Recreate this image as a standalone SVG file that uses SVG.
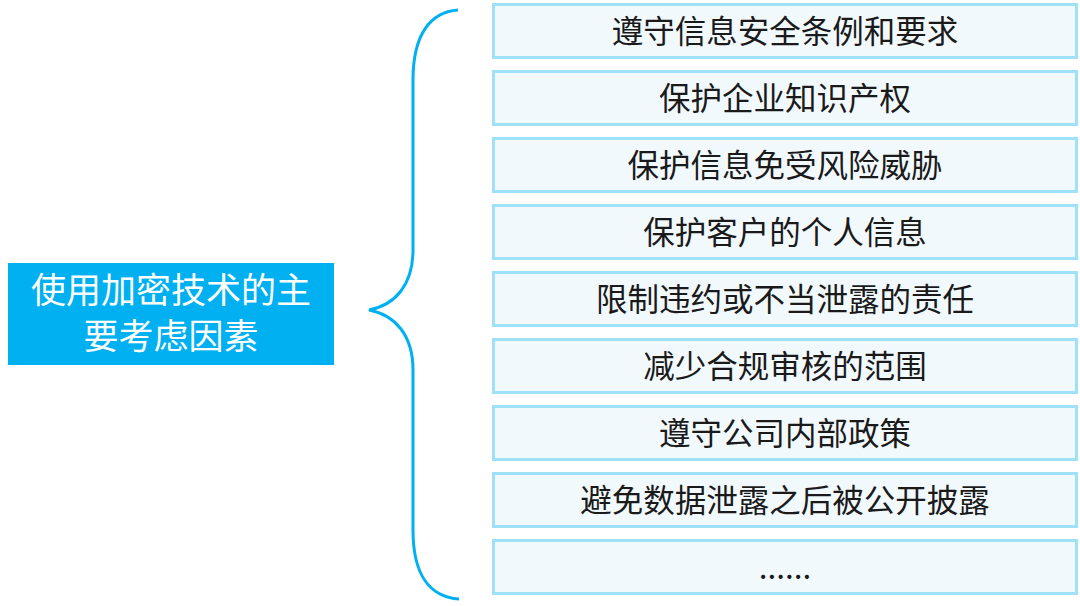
<svg xmlns="http://www.w3.org/2000/svg" width="1080" height="606" viewBox="0 0 1080 606">
<style>
.item rect{fill:#f2f9fd;stroke:#9fe1f8;stroke-width:3}
.item text{font-family:"Noto Sans CJK SC","Noto Sans",sans-serif;font-size:31.5px;fill:#1a1a1a;text-anchor:middle}
.title text{font-family:"Noto Sans CJK SC","Noto Sans",sans-serif;font-size:35px;fill:#ffffff;text-anchor:middle}
</style>
<rect width="1080" height="606" fill="#ffffff"/>
<g id="title" class="title">
<rect x="8" y="263" width="326" height="102" fill="#00b0f0"/>
<text x="171" y="303">使用加密技术的主</text>
<text x="171" y="349">要考虑因素</text>
</g>
<g id="connectors">
<path d="M458,10 C430,12 413,35 413,80 L413,250 C413,285 395,305 369,310 C395,315 413,335 413,370 L413,530 C413,575 430,597 459,599" fill="none" stroke="#00b0f0" stroke-width="3"/>
</g>
<g id="item1" class="item"><rect x="493.5" y="4.5" width="583" height="53"/><text x="785" y="42.5">遵守信息安全条例和要求</text></g>
<g id="item2" class="item"><rect x="493.5" y="71.5" width="583" height="53"/><text x="785" y="109.5">保护企业知识产权</text></g>
<g id="item3" class="item"><rect x="493.5" y="138.5" width="583" height="53"/><text x="785" y="176.5">保护信息免受风险威胁</text></g>
<g id="item4" class="item"><rect x="493.5" y="205.5" width="583" height="53"/><text x="785" y="243.5">保护客户的个人信息</text></g>
<g id="item5" class="item"><rect x="493.5" y="272.5" width="583" height="53"/><text x="785" y="310.5">限制违约或不当泄露的责任</text></g>
<g id="item6" class="item"><rect x="493.5" y="339.5" width="583" height="53"/><text x="785" y="377.5">减少合规审核的范围</text></g>
<g id="item7" class="item"><rect x="493.5" y="406.5" width="583" height="53"/><text x="785" y="444.5">遵守公司内部政策</text></g>
<g id="item8" class="item"><rect x="493.5" y="473.5" width="583" height="53"/><text x="785" y="511.5">避免数据泄露之后被公开披露</text></g>
<g id="item9" class="item"><rect x="493.5" y="540.5" width="583" height="53"/><text x="785" y="578.5">......</text></g>
</svg>
